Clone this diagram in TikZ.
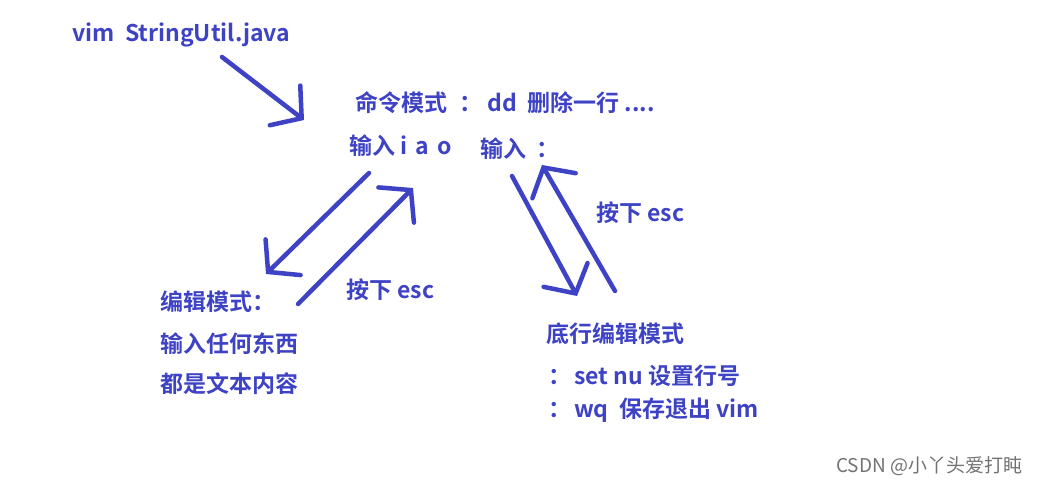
\documentclass[tikz,border=0pt]{standalone}
\usepackage{fontspec}
\setmainfont{Noto Sans CJK SC Bold}
\newfontfamily\markfont{Noto Sans CJK SC}
\usetikzlibrary{arrows.meta}
\usetikzlibrary{positioning}
\definecolor{penblue}{RGB}{62,66,196}
\definecolor{markgray}{RGB}{115,115,115}

\begin{document}
\begin{tikzpicture}
    [
    x=1pt,y=-1pt,
    txt/.style={anchor=west,inner sep=0pt,text=penblue,font=\fontsize{23}{27}\selectfont},
    pen/.style={draw=penblue,line width=4.5pt,line cap=round,line join=round,
      -{Straight Barb[length=21pt,width=50pt,line cap=round]}},
    ]
    \useasboundingbox [fill=white] (0,0) rectangle (1043,486);

    % texts
    \node (open) at (72,35) [txt] {vim\ \ StringUtil.java};
    \node (cmd) at (355,103) [txt] {命令模式\hspace{12pt}：\ dd\ \ 删除一行 ....};
    \node (ins) at (349,146) [txt] {输入 i\hspace{3pt} a\hspace{3pt} o};
    \node (colon) at (480,149) [txt] {输入\hspace{10pt}：};
    \node (edit1) at (160,302) [txt] {编辑模式：};
    \node (edit2) at (160,344) [txt] {输入任何东西};
    \node (edit3) at (160,384) [txt] {都是文本内容};
    \node (escl) at (346,290) [txt] {按下 esc};
    \node (escr) at (596,213) [txt] {按下 esc};
    \node (last) at (546,334) [txt] {底行编辑模式};
    \node (setnu) at (548,376) [txt] {：\hspace{3pt}set nu 设置行号};
    \node (wq) at (548,410) [txt] {：\hspace{3pt}wq\ \ 保存退出 vim};
    \node (mark) at (836,466) [anchor=west,inner sep=0pt,text=markgray,
      font=\markfont\fontsize{19}{22}\selectfont] {CSDN @小丫头爱打盹};

    % arrow ends
    \coordinate (a1s) at (222,57);
    \coordinate (a1e) at (304,120);
    \coordinate (a2s) at (369,173);
    \coordinate (a2e) at (266,274);
    \coordinate (a3s) at (298,304);
    \coordinate (a3e) at (413,188);
    \coordinate (a4s) at (512,176);
    \coordinate (a4e) at (577,296);
    \coordinate (a5s) at (615,291);
    \coordinate (a5e) at (542,165);

    \draw [pen] (a1s) to (a1e);
    \draw [pen] (a2s) to (a2e);
    \draw [pen] (a3s) to (a3e);
    \draw [pen] (a4s) to (a4e);
    \draw [pen] (a5s) to (a5e);
  \end{tikzpicture}
\end{document}
